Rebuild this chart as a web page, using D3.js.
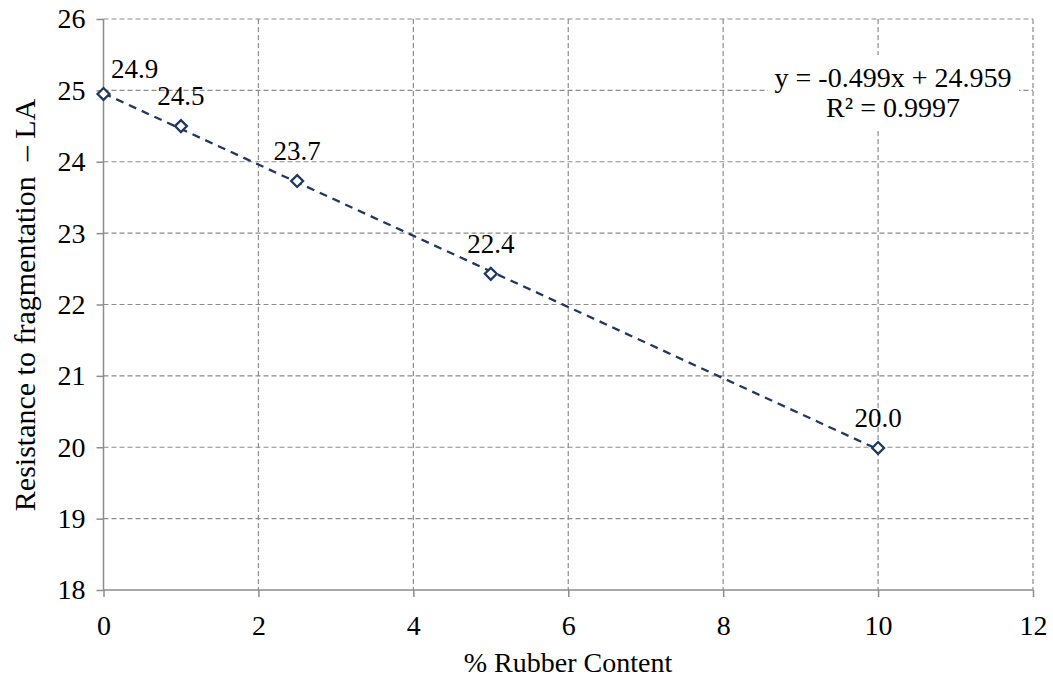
<!DOCTYPE html>
<html>
<head>
<meta charset="utf-8">
<script src="https://cdn.jsdelivr.net/npm/d3@7"></script>
<style>
  body { margin: 0; background: #fff; }
  text { font-family: "Liberation Serif", "Times New Roman", serif; fill: #000; }
</style>
</head>
<body>
<div class="canvas"></div>
<script>
const rubber = [0, 1, 2.5, 5, 10];
const la = [24.95, 24.5, 23.73, 22.43, 19.99];
const labels = ['24.9', '24.5', '23.7', '22.4', '20.0'];
const xTicks = [0, 2, 4, 6, 8, 10, 12];
const yTicks = [18, 19, 20, 21, 22, 23, 24, 25, 26];
const slope = -0.499, intercept = 24.959;
const eqLines = ['y = -0.499x + 24.959', 'R² = 0.9997'];

const width = 1053, height = 680;
const margin = { top: 19, right: 20, bottom: 90, left: 103.5 };
const graphWidth = 1033 - margin.left;
const graphHeight = 590 - margin.top;

const svg = d3.select('.canvas')
    .append('svg')
    .attr('width', width)
    .attr('height', height);

const graph = svg.append('g')
    .attr('transform', `translate(${margin.left},${margin.top})`);

const x = d3.scaleLinear().domain([0, 12]).range([0, graphWidth]);
const y = d3.scaleLinear().domain([18, 26]).range([graphHeight, 0]);

// gridlines
graph.append('g')
    .selectAll('line')
    .data(yTicks.filter(d => d > 18))
    .enter()
    .append('line')
    .attr('x1', 0).attr('x2', graphWidth)
    .attr('y1', d => y(d)).attr('y2', d => y(d))
    .attr('stroke', '#8c8c8c')
    .attr('stroke-width', 1.2)
    .attr('stroke-dasharray', '5,3');

graph.append('g')
    .selectAll('line')
    .data(xTicks.filter(d => d > 0))
    .enter()
    .append('line')
    .attr('x1', d => x(d)).attr('x2', d => x(d))
    .attr('y1', 0).attr('y2', graphHeight)
    .attr('stroke', '#8c8c8c')
    .attr('stroke-width', 1.2)
    .attr('stroke-dasharray', '5,3');

// axes
const xAxis = d3.axisBottom(x).tickValues(xTicks).tickSize(7).tickPadding(18);
const yAxis = d3.axisLeft(y).tickValues(yTicks).tickSize(7).tickPadding(11);

const xAxisGroup = graph.append('g')
    .attr('transform', `translate(0, ${graphHeight})`)
    .call(xAxis);
const yAxisGroup = graph.append('g').call(yAxis);

[xAxisGroup, yAxisGroup].forEach(g => {
    g.select('.domain').attr('stroke', '#8c8c8c').attr('stroke-width', 1.5);
    g.selectAll('.tick line').attr('stroke', '#8c8c8c').attr('stroke-width', 1.5);
    g.selectAll('text')
        .attr('font-size', 28)
        .attr('fill', '#000');
});
xAxisGroup.select('.domain').attr('d', `M0,0H${graphWidth}`);
yAxisGroup.select('.domain').attr('d', `M0,${graphHeight}V0`);

// equation box
svg.append('rect')
    .attr('x', 768).attr('y', 55)
    .attr('width', 251).attr('height', 73)
    .attr('fill', '#fff');
svg.selectAll('text.eq')
    .data(eqLines)
    .enter()
    .append('text')
    .attr('class', 'eq')
    .attr('x', 893)
    .attr('y', (d, i) => 87 + i * 30)
    .attr('text-anchor', 'middle')
    .attr('font-size', 28)
    .text(d => d);

// trendline
graph.append('line')
    .attr('x1', x(0)).attr('y1', y(intercept))
    .attr('x2', x(10)).attr('y2', y(intercept + slope * 10))
    .attr('stroke', '#1f3864')
    .attr('stroke-width', 2.3)
    .attr('stroke-dasharray', '8,6');

// markers
const pts = rubber.map((r, i) => ({ r, v: la[i], label: labels[i] }));

graph.selectAll('path.pt')
    .data(pts)
    .enter()
    .append('path')
    .attr('class', 'pt')
    .attr('d', d3.symbol().type(d3.symbolDiamond2).size(90))
    .attr('transform', d => `translate(${x(d.r)},${y(d.v)})`)
    .attr('fill', '#fff')
    .attr('stroke', '#1f3864')
    .attr('stroke-width', 2.3);

graph.selectAll('text.lbl')
    .data(pts)
    .enter()
    .append('text')
    .attr('class', 'lbl')
    .attr('x', d => x(d.r) + (d.r === 0 ? 31 : 0))
    .attr('y', d => y(d.v) - (d.r === 0 ? 16 : 21))
    .attr('text-anchor', 'middle')
    .attr('font-size', 27)
    .text(d => d.label);

// axis titles
svg.append('text')
    .attr('x', 568)
    .attr('y', 672)
    .attr('text-anchor', 'middle')
    .attr('font-size', 28)
    .text('% Rubber Content');

svg.append('text')
    .attr('transform', 'translate(35, 305) rotate(-90)')
    .attr('text-anchor', 'middle')
    .attr('font-size', 30)
    .attr('xml:space', 'preserve')
    .text('Resistance to fragmentation  – LA');
</script>
</body>
</html>
